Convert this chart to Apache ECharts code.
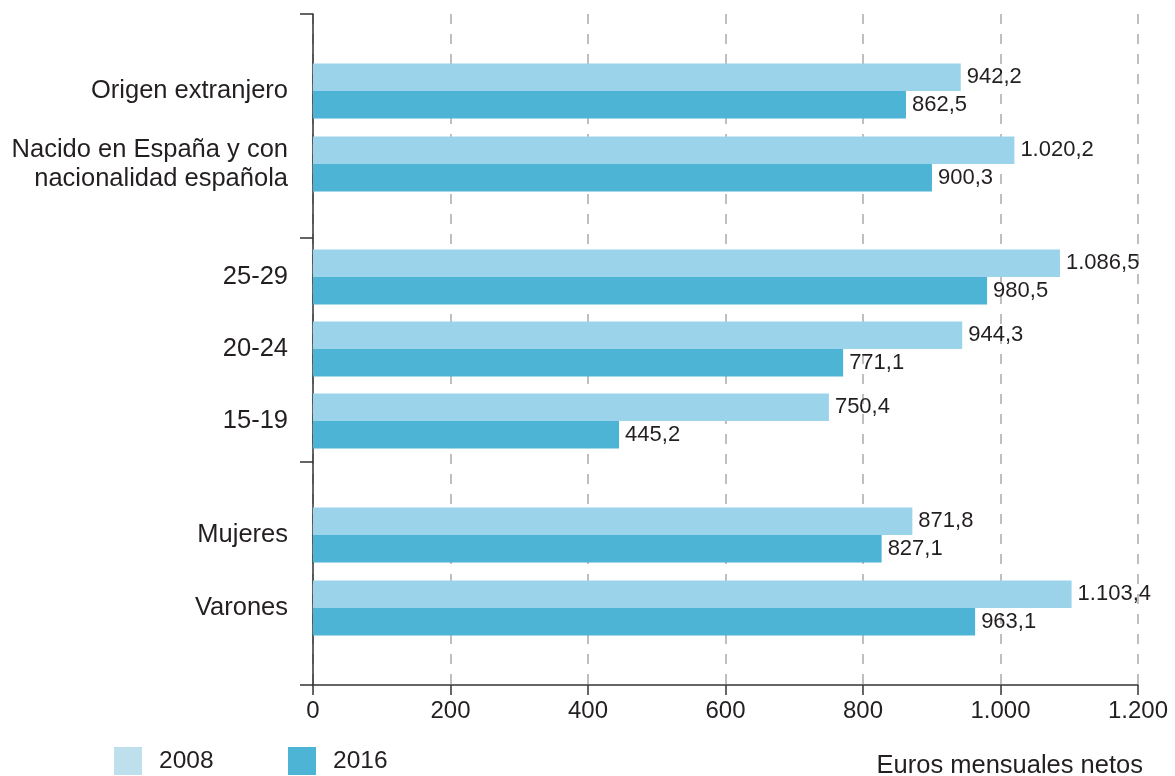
<!DOCTYPE html>
<html>
<head>
<meta charset="utf-8">
<script src="https://cdn.jsdelivr.net/npm/echarts@6/dist/echarts.min.js"></script>
<style>
  html, body { margin: 0; padding: 0; background: #fff; }
  #chart { width: 1175px; height: 776px; }
</style>
</head>
<body>
<div id="chart"></div>
<script>
// Salario mensual neto (euros) por origen, grupo de edad y sexo, 2008 y 2016
const origenCats = ['Origen extranjero', 'Nacido en España y con\nnacionalidad española'];
const origen2008 = [942.2, 1020.2];
const origen2016 = [862.5, 900.3];

const edadCats = ['25-29', '20-24', '15-19'];
const edad2008 = [1086.5, 944.3, 750.4];
const edad2016 = [980.5, 771.1, 445.2];

const sexoCats = ['Mujeres', 'Varones'];
const sexo2008 = [871.8, 1103.4];
const sexo2016 = [827.1, 963.1];

const xMin = 0, xMax = 1200, xStep = 200;
const seriesNames = ['2008', '2016'];
const unitLabel = 'Euros mensuales netos';

const FONT = 'Liberation Sans, Arial, sans-serif';
const TEXT = '#231f20';
const LIGHT = '#9bd3eb';
const LIGHT_KEY = '#bde0ec';
const DARK = '#4db4d5';

// Spanish number format: dot for thousands, comma for decimals
function fmtEs(v, decimals) {
  const s = v.toFixed(decimals);
  const parts = s.split('.');
  const int = parts[0].replace(/\B(?=(\d{3})+(?!\d))/g, '.');
  return parts.length > 1 ? int + ',' + parts[1] : int;
}

const LEFT = 313, RIGHT = 37;
const groups = [
  { cats: origenCats, a: origen2008, b: origen2016, top: 54.5, height: 146 },
  { cats: edadCats, a: edad2008, b: edad2016, top: 241, height: 216 },
  { cats: sexoCats, a: sexo2008, b: sexo2016, top: 498.5, height: 146 }
];

const grid = [{ left: LEFT, right: RIGHT, top: 14, height: 671 }];
const xAxis = [{
  gridIndex: 0, type: 'value', min: xMin, max: xMax, interval: xStep,
  axisLine: { show: true, lineStyle: { color: '#333', width: 1.5 } },
  axisTick: { show: true, length: 10, lineStyle: { color: '#333', width: 1.5 } },
  axisLabel: {
    margin: 14, fontSize: 24, color: TEXT, fontFamily: FONT,
    formatter: v => fmtEs(v, 0)
  },
  splitLine: {
    show: true,
    lineStyle: { color: '#aaaaaa', width: 1.5, type: [10, 10] }
  }
}];
// Vertical axis with separators between the three groups
const yAxis = [{
  gridIndex: 0, type: 'value', min: 0, max: 3, interval: 1,
  axisLine: { show: true, lineStyle: { color: '#333', width: 1.5 } },
  axisTick: { show: true, inside: false, length: 13, lineStyle: { color: '#333', width: 1.5 } },
  axisLabel: { show: false },
  splitLine: { show: false }
}];
const series = [];

groups.forEach((g, i) => {
  const gi = i + 1;
  grid.push({ left: LEFT, right: RIGHT, top: g.top, height: g.height });
  xAxis.push({
    gridIndex: gi, type: 'value', min: xMin, max: xMax, interval: xStep,
    show: false, splitLine: { show: false }
  });
  yAxis.push({
    gridIndex: gi, type: 'category', inverse: true, data: g.cats,
    axisLine: { show: false }, axisTick: { show: false }, splitLine: { show: false },
    axisLabel: {
      margin: 25, fontSize: 25.5, lineHeight: 29, color: TEXT, fontFamily: FONT, align: 'right'
    }
  });
  [g.a, g.b].forEach((vals, k) => {
    series.push({
      name: seriesNames[k], type: 'bar',
      xAxisIndex: gi, yAxisIndex: gi,
      data: vals, barWidth: 27.5, barGap: '0%',
      itemStyle: { color: k === 0 ? LIGHT : DARK },
      label: {
        show: true, position: 'right', distance: 6,
        fontSize: 22, color: TEXT, fontFamily: FONT,
        formatter: p => fmtEs(p.value, 1)
      },
      emphasis: { disabled: true },
      animation: false
    });
  });
});

const legendBase = {
  top: 742, itemWidth: 28, itemHeight: 28, icon: 'rect',
  selectedMode: false,
  textStyle: { fontSize: 24.5, color: TEXT, fontFamily: FONT, padding: [0, 0, 0, 12] }
};

const option = {
  backgroundColor: '#fff',
  animation: false,
  textStyle: { fontFamily: FONT },
  grid, xAxis, yAxis, series,
  legend: [
    Object.assign({}, legendBase, {
      left: 109, data: [{ name: seriesNames[0], itemStyle: { color: LIGHT_KEY } }]
    }),
    Object.assign({}, legendBase, { left: 283, data: [seriesNames[1]] })
  ],
  title: {
    text: unitLabel, right: 27, top: 748,
    textStyle: { fontSize: 25.5, fontWeight: 'normal', color: TEXT, fontFamily: FONT }
  }
};

const chart = echarts.init(document.getElementById('chart'), null, { renderer: 'canvas' });
chart.setOption(option);
</script>
</body>
</html>
